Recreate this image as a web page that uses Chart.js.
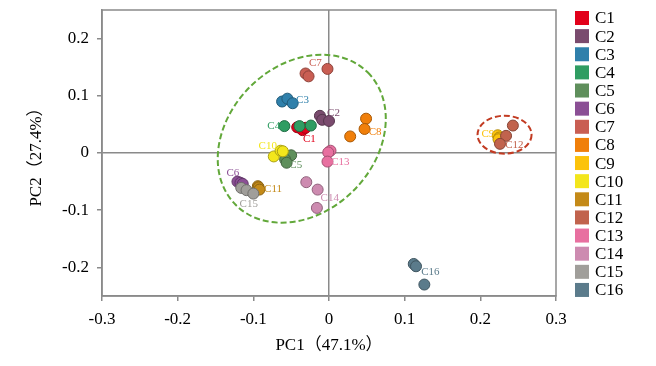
<!DOCTYPE html>
<html>
<head>
<meta charset="utf-8">
<script src="https://cdn.jsdelivr.net/npm/chart.js@4.4.1/dist/chart.umd.min.js"></script>
<style>
  html, body { margin: 0; padding: 0; background: #fff; }
</style>
</head>
<body>
<canvas id="pca" width="656" height="366"></canvas>
<script>
// categorias e cores
const categories = ['C1', 'C2', 'C3', 'C4', 'C5', 'C6', 'C7', 'C8', 'C9', 'C10', 'C11', 'C12', 'C13', 'C14', 'C15', 'C16'];
const colors = ['#e2001a', '#7a4b6e', '#2f80ab', '#2f9d62', '#5f8f5c', '#8b4f95', '#c95e53', '#f07f0a',
                '#fcc30b', '#f3e61c', '#c48a18', '#c1634d', '#e870a0', '#cd8bb0', '#a09e9a', '#5b7b8b'];

// scores (3 repeticoes por amostra)
const pc1 = [
  [-0.042, -0.035, -0.031],
  [-0.012, -0.009, 0.000],
  [-0.062, -0.055, -0.048],
  [-0.059, -0.039, -0.024],
  [-0.050, -0.058, -0.056],
  [-0.121, -0.117, -0.114],
  [-0.031, -0.027, -0.002],
  [0.049, 0.047, 0.028],
  [0.223, 0.225, 0.224],
  [-0.073, -0.064, -0.061],
  [-0.094, -0.093, -0.092],
  [0.243, 0.234, 0.226],
  [0.002, -0.001, -0.002],
  [-0.030, -0.015, -0.016],
  [-0.116, -0.109, -0.100],
  [0.112, 0.115, 0.126]
];
const pc2 = [
  [0.045, 0.040, 0.044],
  [0.065, 0.058, 0.056],
  [0.090, 0.095, 0.087],
  [0.047, 0.047, 0.048],
  [-0.004, -0.011, -0.017],
  [-0.050, -0.052, -0.054],
  [0.139, 0.134, 0.147],
  [0.060, 0.042, 0.029],
  [0.031, 0.027, 0.024],
  [-0.006, 0.004, 0.003],
  [-0.058, -0.060, -0.064],
  [0.048, 0.030, 0.016],
  [0.004, 0.001, -0.015],
  [-0.051, -0.064, -0.096],
  [-0.061, -0.065, -0.071],
  [-0.194, -0.198, -0.230]
];

// rotulos junto aos pontos (coordenadas do grafico)
const labelPC1 = [-0.026, 0.006, -0.035, -0.073, -0.044, -0.127, -0.018, 0.061, 0.210, -0.081, -0.074, 0.245, 0.015, 0.001, -0.106, 0.134];
const labelPC2 = [0.025, 0.070, 0.093, 0.047, -0.022, -0.036, 0.157, 0.037, 0.033, 0.012, -0.063, 0.013, -0.016, -0.079, -0.089, -0.208];

const xTicks = [-0.3, -0.2, -0.1, 0, 0.1, 0.2, 0.3];
const xTickLabels = ['-0.3', '-0.2', '-0.1', '0', '0.1', '0.2', '0.3'];
const yTicks = [-0.2, -0.1, 0, 0.1, 0.2];
const yTickLabels = ['-0.2', '-0.1', '0', '0.1', '0.2'];

// elipses de agrupamento (centro em unidades do grafico, raios em unidades de PC1)
const groups = [
  { cx: -0.036, cy: 0.025, rx: 0.1236, ry: 0.0969, rot: -45, color: '#62a83a' },
  { cx: 0.232, cy: 0.032, rx: 0.0357, ry: 0.0251, rot: 0, color: '#c23b22' }
];

const FONT = "'Liberation Serif', 'Noto Sans CJK SC', serif";
const GRAY = '#8a8a8a';

function darken(hex, f) {
  const n = parseInt(hex.slice(1), 16);
  const r = Math.round(((n >> 16) & 255) * f), g = Math.round(((n >> 8) & 255) * f), b = Math.round((n & 255) * f);
  return `rgb(${r}, ${g}, ${b})`;
}

const datasets = categories.map((name, i) => ({
  label: name,
  data: pc1[i].map((x, j) => ({ x, y: pc2[i][j] })),
  backgroundColor: colors[i],
  borderColor: darken(colors[i], 0.7),
  borderWidth: 1,
  pointRadius: 5.5,
  order: categories.length - i
}));

const framePlugin = {
  id: 'frame',
  beforeDatasetsDraw(chart) {
    const { ctx, chartArea: a, scales: { x, y } } = chart;
    ctx.save();
    ctx.strokeStyle = GRAY;
    ctx.lineWidth = 1.5;
    ctx.strokeRect(a.left, a.top, a.right - a.left, a.bottom - a.top);
    // elipses
    const k = x.getPixelForValue(1) - x.getPixelForValue(0);
    ctx.lineWidth = 2;
    ctx.setLineDash([6, 3]);
    groups.forEach(g => {
      ctx.strokeStyle = g.color;
      ctx.beginPath();
      ctx.ellipse(x.getPixelForValue(g.cx), y.getPixelForValue(g.cy), g.rx * k, g.ry * k, g.rot * Math.PI / 180, 0, Math.PI * 2);
      ctx.stroke();
    });
    ctx.restore();
  },
  afterDatasetsDraw(chart) {
    const { ctx, scales: { x, y } } = chart;
    ctx.save();
    ctx.font = '11px ' + FONT;
    ctx.textAlign = 'center';
    ctx.textBaseline = 'middle';
    categories.forEach((name, i) => {
      ctx.fillStyle = colors[i];
      ctx.fillText(name, x.getPixelForValue(labelPC1[i]), y.getPixelForValue(labelPC2[i]));
    });
    ctx.restore();
  }
};

const legendPlugin = {
  id: 'sideLegend',
  afterDraw(chart) {
    const ctx = chart.ctx;
    ctx.save();
    ctx.font = '17px ' + FONT;
    ctx.textBaseline = 'middle';
    ctx.textAlign = 'left';
    categories.forEach((name, i) => {
      const yy = 18 + i * 18.13;
      ctx.fillStyle = colors[i];
      ctx.fillRect(575, yy - 7, 14, 14);
      ctx.fillStyle = '#000';
      ctx.fillText(name, 595, yy + 1);
    });
    ctx.restore();
  }
};

const zeroLine = c => (c.tick && c.tick.value === 0) ? GRAY : 'rgba(0,0,0,0)';

new Chart(document.getElementById('pca'), {
  type: 'scatter',
  data: { datasets },
  options: {
    responsive: false,
    animation: false,
    layout: { padding: { left: 8, right: 100, top: 10, bottom: 10 } },
    plugins: { legend: { display: false }, tooltip: { enabled: false } },
    scales: {
      x: {
        min: -0.3, max: 0.3,
        afterBuildTicks: s => { s.ticks = xTicks.map(v => ({ value: v })); },
        afterFit: s => { s.height = 60; s.paddingLeft = 0; s.paddingRight = 0; },
        grid: { color: zeroLine, lineWidth: 1.5, tickLength: 5, tickColor: GRAY, tickWidth: 1.5 },
        border: { color: GRAY, width: 1.5 },
        ticks: { color: '#000', padding: 8, maxRotation: 0, font: { family: FONT, size: 17 },
                 callback: (v, i) => xTickLabels[i] },
        title: { display: true, text: 'PC1（47.1%）', color: '#000', padding: { top: 0, bottom: 0 },
                 font: { family: FONT, size: 17 } }
      },
      y: {
        min: -0.25, max: 0.25,
        afterBuildTicks: s => { s.ticks = yTicks.map(v => ({ value: v })); },
        afterFit: s => { s.width = 94; s.paddingTop = 0; s.paddingBottom = 0; },
        grid: { color: zeroLine, lineWidth: 1.5, tickLength: 5, tickColor: GRAY, tickWidth: 1.5 },
        border: { color: GRAY, width: 1.5 },
        ticks: { color: '#000', padding: 8, font: { family: FONT, size: 17 },
                 callback: (v, i) => yTickLabels[i] },
        title: { display: true, text: 'PC2（27.4%）', color: '#000', padding: { top: 18, bottom: 0 },
                 font: { family: FONT, size: 17 } }
      }
    }
  },
  plugins: [framePlugin, legendPlugin]
});
</script>
</body>
</html>
